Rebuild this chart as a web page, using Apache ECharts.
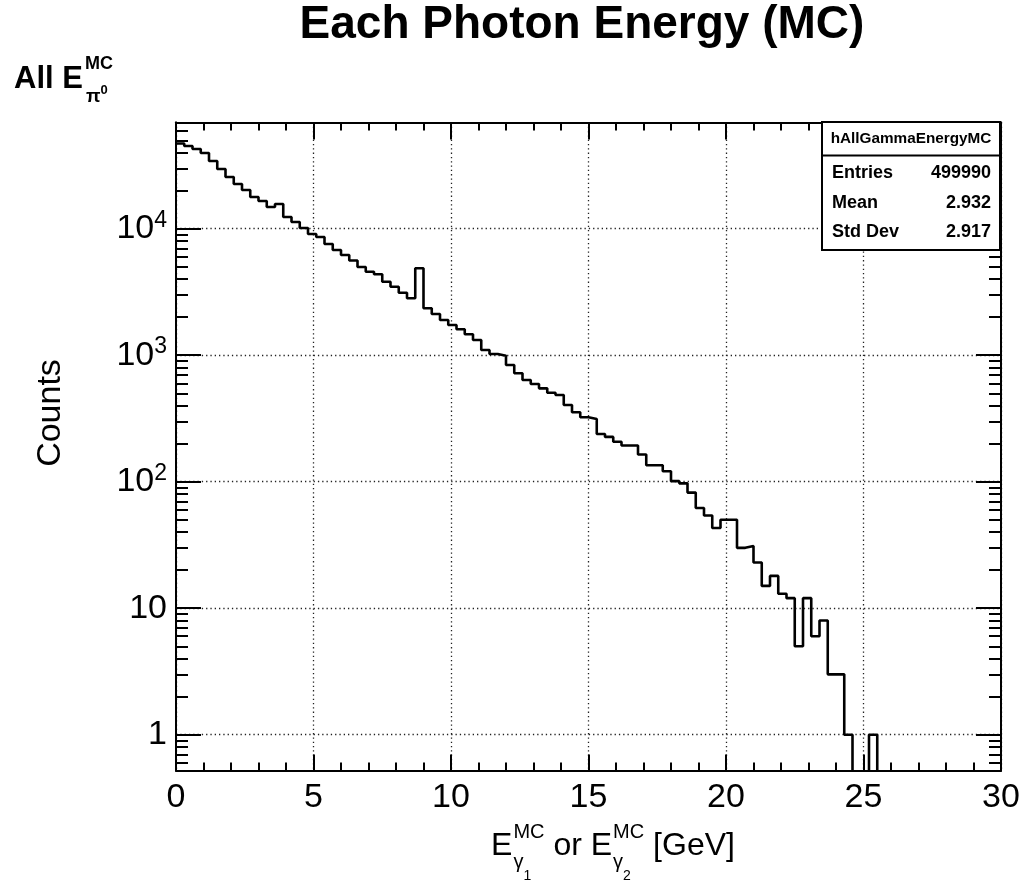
<!DOCTYPE html>
<html><head><meta charset="utf-8">
<script src="https://cdn.jsdelivr.net/npm/echarts@6/dist/echarts.min.js"></script>
<style>html,body{margin:0;padding:0;background:#fff}#c{width:1023px;height:887px}</style>
</head><body><div id="c"></div>
<script>
// ---------------- data ----------------
const binWidth = 0.3;
const xMin = 0, xMax = 30, xInterval = 5;
const yMin = 0.521, yMax = 69100;
const counts = [
  47150,45060,42660,39670,34290,29640,25620,22560,20230,17810,
  16560,14840,15680,12370,11290,10130,9080,8600,7570,6785,
  6195,5605,4980,4570,4360,3810,3477,3118,2817,4864,
  2349,2117,1898,1733,1602,1463,1319,1099,1022,991,
  837,719,637,592,547,505,484,404,354,323,
  313,238,226,207,193,193,164,135,135,121,
  101,97,82,62,54,43,50,50,30,31,
  23,15,18,13,12,5,12,6,8,3,
  3,1,0,0,1,0,0,0,0,0,
  0,0,0,0,0,0,0,0,0,0
];
const yTickValues = [1, 10, 100, 1000, 10000];
const yTickLabels = ['1', '10', '10^2', '10^3', '10^4'];
const titleText = 'Each Photon Energy (MC)';
const yTitle = 'Counts';
const xTitleParts = [
  {main: 'E', sup: 'MC', sub: '\u03b3', subsub: '1'},
  {main: ' or '},
  {main: 'E', sup: 'MC', sub: '\u03b3', subsub: '2'},
  {main: ' [GeV]'}
];
const cornerLabel = {main: 'All E', sup: 'MC', sub: '\u03c0', subsup: '0'};
const statsName = 'hAllGammaEnergyMC';
const statsLabels = ['Entries', 'Mean', 'Std Dev'];
const statsValues = ['499990', '2.932', '2.917'];

// ---------------- helpers ----------------
const FF = '"Liberation Sans", Arial, Helvetica, sans-serif';
const ctx2 = document.createElement('canvas').getContext('2d');
function tw(text, font) { ctx2.font = font; return ctx2.measureText(text).width; }
function fnt(size, bold) { return (bold ? 'bold ' : '') + size + 'px ' + FF; }
function txt(text, x, y, size, bold, align, extra) {
  return Object.assign({
    type: 'text', x: x, y: y, z: 120, silent: true,
    style: {text: text, font: fnt(size, bold), fill: '#000', align: align || 'left', verticalAlign: 'middle'}
  }, extra || {});
}

// minor log ticks
const yMinorTicks = [];
for (let d = -1; d <= 4; d++) {
  for (let k = 2; k <= 9; k++) {
    const v = Number((k * Math.pow(10, d)).toPrecision(6));
    if (v >= yMin && v <= yMax) yMinorTicks.push(v);
  }
}

// histogram as step line (empty bins drawn below the frame, clipped)
const EMPTY = yMin / 10;
const histData = counts.map((c, i) => [Number((xMin + i * binWidth).toFixed(4)), c > 0 ? c : EMPTY]);
histData.push([xMax, counts[counts.length - 1] > 0 ? counts[counts.length - 1] : EMPTY]);

// ---------------- graphic texts ----------------
const graphics = [];
// title
graphics.push(txt(titleText, 582, 25, 46, true, 'center'));
// corner label
(function () {
  let x = 14;
  graphics.push(txt(cornerLabel.main, x, 79, 31, true));
  x += tw(cornerLabel.main, fnt(31, true)) + 2;
  graphics.push(txt(cornerLabel.sup, x, 64, 18, true));
  graphics.push(txt(cornerLabel.sub, x + 1, 97, 19, true));
  const px = x + 1 + tw(cornerLabel.sub, fnt(19, true));
  graphics.push(txt(cornerLabel.subsup, px, 90, 13, true));
})();
// y title
graphics.push(txt(yTitle, 51, 413, 34, false, 'center', {rotation: Math.PI / 2}));
// x title
(function () {
  const MS = 32, SS = 20, SSS = 14;
  const widths = xTitleParts.map(p => {
    let w = tw(p.main, fnt(MS));
    if (p.sup) {
      w += 1 + Math.max(tw(p.sup, fnt(SS)), tw(p.sub, fnt(SS)) + tw(p.subsub, fnt(SSS)));
    }
    return w;
  });
  const total = widths.reduce((a, b) => a + b, 0);
  let x = 613 - total / 2;
  xTitleParts.forEach((p, i) => {
    graphics.push(txt(p.main, x, 846, MS, false));
    if (p.sup) {
      const x0 = x + tw(p.main, fnt(MS)) + 1;
      graphics.push(txt(p.sup, x0, 832, SS, false));
      graphics.push(txt(p.sub, x0, 862, SS, false));
      graphics.push(txt(p.subsub, x0 + tw(p.sub, fnt(SS)), 876, SSS, false));
    }
    x += widths[i];
  });
})();
// stats box
(function () {
  const bx = 822, by = 122, bw = 178, bh = 128;
  graphics.push({type: 'rect', z: 110, silent: true, shape: {x: bx, y: by, width: bw, height: bh},
    style: {fill: '#fff', stroke: '#000', lineWidth: 2}});
  graphics.push({type: 'line', z: 111, silent: true, shape: {x1: bx, y1: 155.5, x2: bx + bw, y2: 155.5},
    style: {stroke: '#000', lineWidth: 2}});
  graphics.push(txt(statsName, bx + bw / 2, 138.5, 15.3, true, 'center'));
  const rowsY = [173.5, 203, 232.5];
  statsLabels.forEach((l, i) => {
    graphics.push(txt(l, 832, rowsY[i], 18, true, 'left'));
    graphics.push(txt(statsValues[i], 991, rowsY[i], 18, true, 'right'));
  });
})();

// ---------------- chart ----------------
const chart = echarts.init(document.getElementById('c'), null, {renderer: 'canvas'});
const black = '#000';
const gridLine = {show: true, lineStyle: {color: '#222', width: 1.3, type: [1.3, 3]}};
function xAxisDef(pos, labels, majorLen, split) {
  return {
    type: 'value', position: pos, min: xMin, max: xMax, interval: xInterval,
    axisLine: {show: true, onZero: false, lineStyle: {color: black, width: 2}},
    axisTick: {show: true, inside: true, length: majorLen, lineStyle: {color: black, width: 2}},
    minorTick: {show: true, splitNumber: 5, length: 8, lineStyle: {color: black, width: 2}},
    axisLabel: labels ? {show: true, color: black, fontFamily: FF, fontSize: 34, margin: 10} : {show: false},
    splitLine: split ? gridLine : {show: false},
    minorSplitLine: {show: false}
  };
}
function yAxisDef(pos, ticks, len, labels, split) {
  return {
    type: 'log', logBase: 10, position: pos, min: yMin, max: yMax,
    axisLine: {show: true, onZero: false, lineStyle: {color: black, width: 2}},
    axisTick: {show: true, inside: true, length: len, customValues: ticks, lineStyle: {color: black, width: 2}},
    minorTick: {show: false},
    axisLabel: labels ? {
      show: true, color: black, fontFamily: FF, fontSize: 34, margin: 9,
      customValues: yTickValues, showMinLabel: true, showMaxLabel: true,
      formatter: function (v) {
        const i = yTickValues.findIndex(t => Math.abs(t - v) / t < 1e-6);
        if (i < 0) return '';
        const s = yTickLabels[i];
        if (s.indexOf('^') < 0) return s;
        const p = s.split('^');
        return '{b|' + p[0] + '}{s|' + p[1] + '}';
      },
      rich: {
        b: {fontFamily: FF, fontSize: 34, lineHeight: 40, color: black},
        s: {fontFamily: FF, fontSize: 23, lineHeight: 23, verticalAlign: 'top', color: black}
      }
    } : {show: false},
    splitLine: split ? gridLine : {show: false}
  };
}

chart.setOption({
  animation: false,
  backgroundColor: '#fff',
  grid: {left: 176, right: 22, top: 122.5, bottom: 116.5, containLabel: false, outerBoundsMode: 'none'},
  xAxis: [
    xAxisDef('bottom', true, 16, true),
    xAxisDef('top', false, 17, false)
  ],
  yAxis: [
    yAxisDef('left', yTickValues, 25, true, true),
    yAxisDef('left', yMinorTicks, 12, false, false),
    yAxisDef('right', yTickValues, 25, false, false),
    yAxisDef('right', yMinorTicks, 12, false, false)
  ],
  series: [{
    type: 'line', step: 'end', xAxisIndex: 0, yAxisIndex: 0,
    data: histData, symbol: 'none', showSymbol: false, clip: true, z: 5,
    lineStyle: {color: black, width: 2.6}
  }],
  graphic: graphics
});
</script>
</body></html>
